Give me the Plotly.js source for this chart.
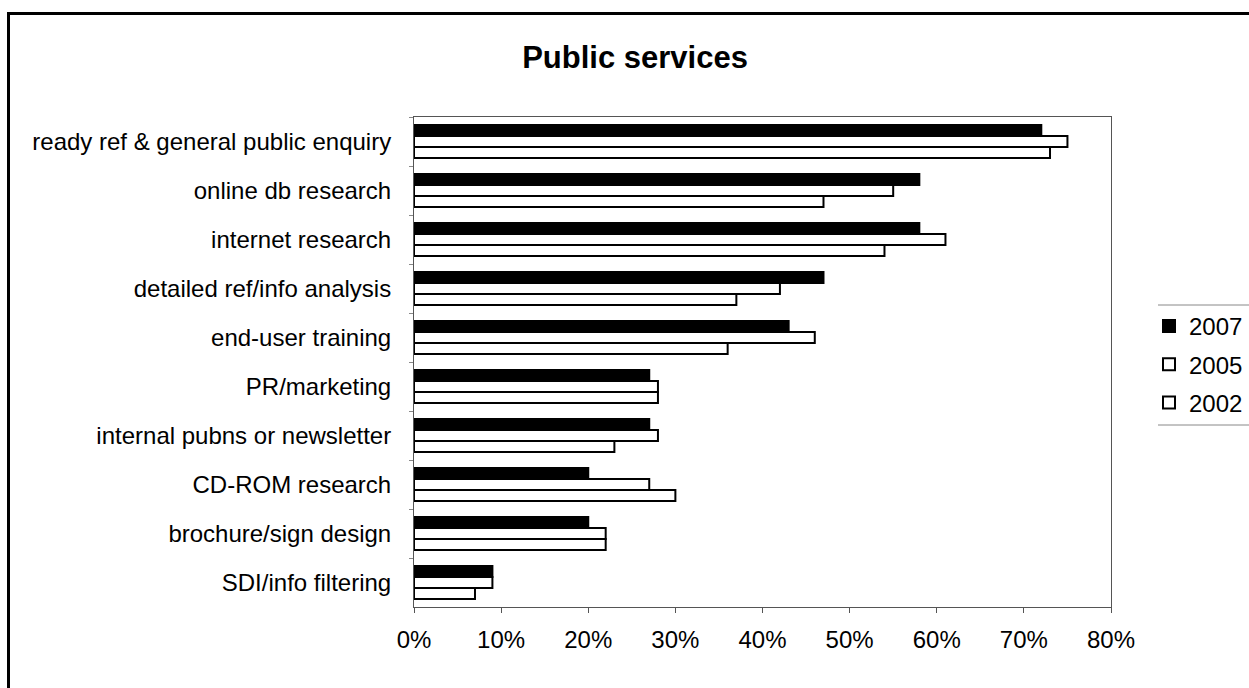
<!DOCTYPE html>
<html>
<head>
<meta charset="utf-8">
<script src="https://cdn.plot.ly/plotly-3.0.1.min.js"></script>
<style>
  html, body { margin: 0; padding: 0; background: #fff; overflow: hidden; }
  #chart { position: absolute; left: 0; top: 0; width: 1249px; height: 688px; }
  #frame { position: absolute; left: 7px; top: 12px; width: 1300px; height: 740px; border: 3px solid #000; pointer-events: none; }
</style>
</head>
<body>
<div id="chart"></div>
<div id="frame"></div>
<script>
const categories = [
  "ready ref & general public enquiry",
  "online db research",
  "internet research",
  "detailed ref/info analysis",
  "end-user training",
  "PR/marketing",
  "internal pubns or newsletter",
  "CD-ROM research",
  "brochure/sign design",
  "SDI/info filtering"
];
const seriesNames = ["2007", "2005", "2002"];
const values2007 = [0.72, 0.58, 0.58, 0.47, 0.43, 0.27, 0.27, 0.20, 0.20, 0.09];
const values2005 = [0.75, 0.55, 0.61, 0.42, 0.46, 0.28, 0.28, 0.27, 0.22, 0.09];
const values2002 = [0.73, 0.47, 0.54, 0.37, 0.36, 0.28, 0.23, 0.30, 0.22, 0.07];
const tickVals = [0, 0.1, 0.2, 0.3, 0.4, 0.5, 0.6, 0.7, 0.8];
const tickLabels = ["0%", "10%", "20%", "30%", "40%", "50%", "60%", "70%", "80%"];

const FONT = "Liberation Sans, Arial, sans-serif";
const fills = ["#000000", "#ffffff", "#ffffff"];
const allValues = [values2007, values2005, values2002];

const traces = allValues.map((vals, i) => ({
  type: "bar",
  orientation: "h",
  name: seriesNames[i],
  x: vals,
  y: categories,
  legendgroup: "g" + i,
  marker: { color: fills[i], line: { color: "#000", width: 2 } },
  hoverinfo: "x+y+name"
}));

const layout = {
  width: 1249,
  height: 688,
  paper_bgcolor: "#fff",
  plot_bgcolor: "#fff",
  font: { family: FONT, color: "#000", size: 24 },
  margin: { l: 414, r: 138, t: 117, b: 81, pad: 0 },
  title: {
    text: "<b>Public services</b>",
    font: { family: FONT, size: 31, color: "#000" },
    x: 635 / 1249, xanchor: "center",
    xref: "container",
    y: 1 - 57 / 688, yanchor: "middle", yref: "container"
  },
  barmode: "group",
  bargap: 0.33,
  bargroupgap: 0,
  xaxis: {
    range: [0, 0.8],
    tickvals: tickVals,
    ticktext: tickLabels,
    ticks: "outside",
    ticklen: 5,
    tickcolor: "#555",
    showgrid: false,
    zeroline: false,
    showline: true,
    linecolor: "#555",
    linewidth: 1,
    mirror: true,
    tickfont: { family: FONT, size: 24, color: "#000" },
    ticklabelstandoff: 6
  },
  yaxis: {
    type: "category",
    autorange: "reversed",
    ticks: "outside",
    tickson: "boundaries",
    ticklen: 4,
    tickcolor: "#888",
    showgrid: false,
    zeroline: false,
    showline: true,
    linecolor: "#555",
    linewidth: 1,
    mirror: true,
    tickfont: { family: FONT, size: 24, color: "#000" },
    ticklabelstandoff: 17
  },
  legend: {
    x: 1149 / 1249, xref: "container", xanchor: "left",
    y: 1 - 304 / 688, yref: "container", yanchor: "top",
    traceorder: "grouped",
    tracegroupgap: 4,
    itemwidth: 30,
    font: { family: FONT, size: 24, color: "#000" },
    bgcolor: "rgba(0,0,0,0)",
    borderwidth: 0
  },
  shapes: [
    { type: "line", xref: "paper", yref: "paper",
      x0: (1158 - 414) / 697, x1: (1260 - 414) / 697,
      y0: (688 - 81 - 305) / 490, y1: (688 - 81 - 305) / 490,
      line: { color: "#888", width: 1 } },
    { type: "line", xref: "paper", yref: "paper",
      x0: (1158 - 414) / 697, x1: (1260 - 414) / 697,
      y0: (688 - 81 - 425) / 490, y1: (688 - 81 - 425) / 490,
      line: { color: "#888", width: 1 } }
  ],
  showlegend: true
};

Plotly.newPlot("chart", traces, layout, { displayModeBar: false, staticPlot: true });
</script>
</body>
</html>
